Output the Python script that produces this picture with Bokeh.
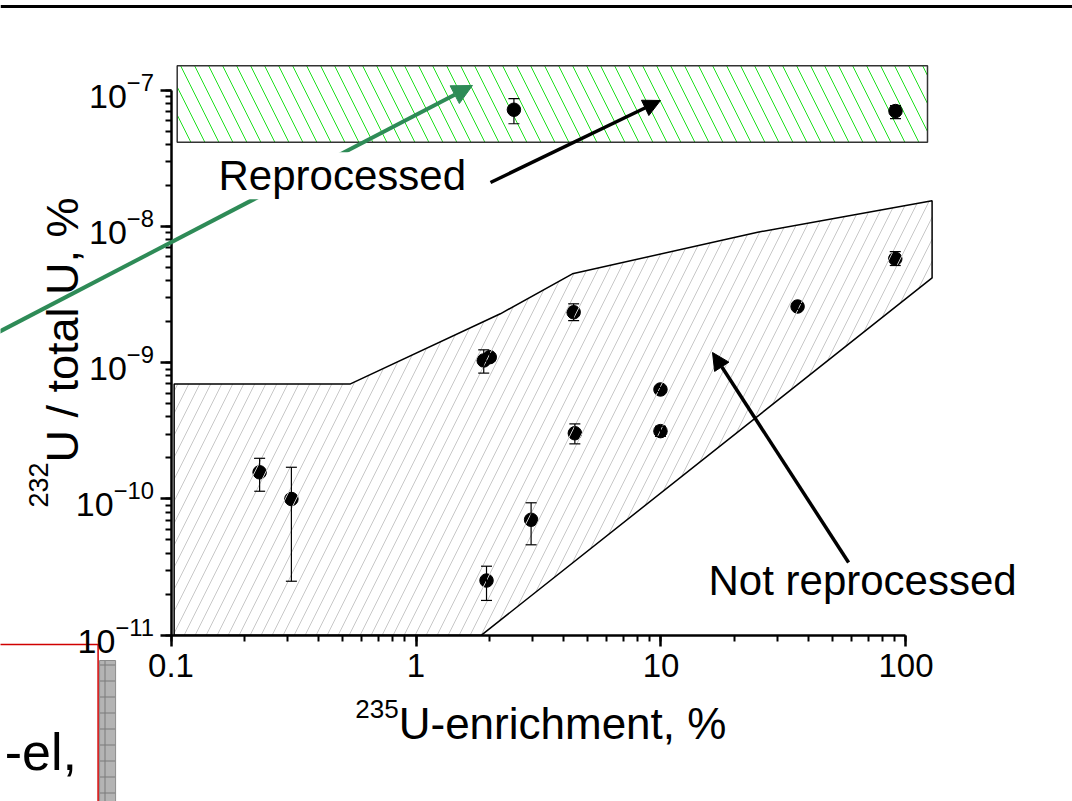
import numpy as np
from bokeh.plotting import figure
from bokeh.models import (Range1d, Whisker, TeeHead, NormalHead, Arrow, Label, Span,
                          ColumnDataSource, LogTickFormatter)
from bokeh.embed import file_html
from bokeh.resources import INLINE

# ---------------- data ----------------
enrichment = [0.23, 0.31, 4.4, 1.89, 2.0, 9.95, 4.45, 9.95, 2.95, 1.94, 90.4, 36.1, 2.51, 90.6]
u232_ratio = [1.57e-10, 1.0e-10, 2.35e-9, 1.04e-9, 1.10e-9, 6.37e-10, 3.04e-10, 3.15e-10,
              7.04e-11, 2.52e-11, 5.8e-9, 2.59e-9, 7.21e-8, 7.05e-8]
u232_upper = [1.99e-10, 1.71e-10, 2.71e-9, 1.245e-9, 1.17e-9, 6.6e-10, 3.56e-10, 3.42e-10,
              9.38e-11, 3.21e-11, 6.56e-9, 2.72e-9, 8.7e-8, 7.72e-8]
u232_lower = [1.14e-10, 2.49e-11, 2.04e-9, 8.4e-10, 1.03e-9, 6.15e-10, 2.54e-10, 2.88e-10,
              4.61e-11, 1.80e-11, 5.18e-9, 2.47e-9, 5.69e-8, 6.2e-8]

# "Not reprocessed" region outline
not_repro_x = [0.103, 0.54, 2.21, 4.35, 24.8, 127.8, 127.8, 1.85, 0.103]
not_repro_y = [7e-10, 7e-10, 2.29e-9, 4.5e-9, 9.1e-9, 1.55e-8, 4.2e-9, 1e-11, 1e-11]

# "Reprocessed" band
repro_left, repro_right = 0.106, 122.4
repro_bottom, repro_top = 4.17e-8, 1.52e-7

# axis extents
x_axis_bounds = (0.1, 100)
y_axis_bounds = (1e-11, 1e-7)

FONT = "Liberation Sans"

p = figure(width=1072, height=801, x_axis_type="log", y_axis_type="log",
           x_range=Range1d(0.02014, 478.2), y_range=Range1d(6.012e-13, 4.571e-7),
           min_border=0, min_border_left=0, min_border_right=0, min_border_top=0,
           min_border_bottom=0, toolbar_location=None, output_backend="svg")
p.xgrid.visible = False
p.ygrid.visible = False
p.outline_line_color = None
p.background_fill_color = "white"
p.border_fill_color = "white"

# axes drawn inside the frame at the data origin
for ax, loc, bnds, fs, so in ((p.xaxis[0], 1e-11, x_axis_bounds, "33px", 8),
                              (p.yaxis[0], 0.1, y_axis_bounds, "34px", 6)):
    ax.fixed_location = loc
    ax.bounds = bnds
    ax.axis_line_width = 2.5
    ax.major_tick_line_width = 2.5
    ax.minor_tick_line_width = 2
    ax.major_tick_out = 11
    ax.major_tick_in = 0
    ax.minor_tick_out = 6
    ax.minor_tick_in = 0
    ax.major_label_text_font = FONT
    ax.major_label_text_font_size = fs
    ax.major_label_text_color = "black"
    ax.major_label_standoff = so
p.xaxis[0].formatter = LogTickFormatter(min_exponent=3)

# top border line of the page
p.add_layout(Span(location=4.13e-7, dimension="width", line_color="black", line_width=3))

# fragment of the neighbouring panel (bottom-left)
p.line(x=[0.01, 0.0504, 0.0504], y=[8.55e-12, 8.55e-12, 1e-13], line_color="#d00000", line_width=1.5)
p.quad(left=[0.0511], right=[0.0594], bottom=[1e-13], top=[6.52e-12],
       fill_color="#b4b4b4", line_color="#8c8c8c", line_width=1,
       hatch_pattern="+", hatch_color="#7a7a7a", hatch_scale=16, hatch_weight=1)
p.add_layout(Label(x=0.0413, y=1.399e-12, text="-el,", text_font=FONT, text_font_size="52px",
                   text_align="right", text_baseline="middle", text_color="black"))

# reprocessed band
p.quad(left=[repro_left], right=[repro_right], bottom=[repro_bottom], top=[repro_top],
       fill_color="white", line_color="#333333", line_width=1.5,
       hatch_pattern="\\", hatch_color="#1ee01e", hatch_scale=28, hatch_weight=1)

# error bars + points
src = ColumnDataSource(dict(x=enrichment, y=u232_ratio, upper=u232_upper, lower=u232_lower))
w = Whisker(source=src, base="x", upper="upper", lower="lower", dimension="height",
            line_color="black", line_width=1.2, level="glyph",
            upper_head=TeeHead(size=11, line_color="black", line_width=1.2),
            lower_head=TeeHead(size=11, line_color="black", line_width=1.2))
p.add_layout(w)
p.scatter(x="x", y="y", source=src, size=13.5, fill_color="black", line_color="black")

# not reprocessed region (hatch drawn over the points as in the original)
p.patch(x=not_repro_x, y=not_repro_y, fill_alpha=0, line_color="black", line_width=1.5,
        hatch_pattern="/", hatch_color="#c8c8c8", hatch_scale=22, hatch_weight=1)

# annotations
p.add_layout(Arrow(x_start=0.01669, y_start=1.433e-9, x_end=1.70, y_end=1.087e-7,
                   line_color="#2e8b57", line_width=4,
                   end=NormalHead(size=20, fill_color="#2e8b57", line_color="#2e8b57", line_width=1)))
p.add_layout(Arrow(x_start=2.014, y_start=2.108e-8, x_end=9.95, y_end=8.43e-8,
                   line_color="black", line_width=3.5,
                   end=NormalHead(size=17, fill_color="black", line_color="black", line_width=1)))
p.add_layout(Arrow(x_start=58.3, y_start=3.42e-11, x_end=16.23, y_end=1.19e-9,
                   line_color="black", line_width=3.5,
                   end=NormalHead(size=17, fill_color="black", line_color="black", line_width=1)))

p.add_layout(Label(x=0.1563, y=2.36e-8, text="Reprocessed", text_font=FONT, text_font_size="42px",
                   text_align="left", text_baseline="middle", text_color="black",
                   background_fill_color="white"))
p.add_layout(Label(x=15.63, y=2.52e-11, text="Not reprocessed", text_font=FONT, text_font_size="42px",
                   text_align="left", text_baseline="middle", text_color="black"))

# axis titles with superscripts
p.add_layout(Label(x=0.85, y=2.895e-12, text="235", text_font=FONT, text_font_size="26px",
                   text_align="right", text_baseline="middle", text_color="black"))
p.add_layout(Label(x=0.85, y=2.247e-12, text="U-enrichment, %", text_font=FONT, text_font_size="44px",
                   text_align="left", text_baseline="middle", text_color="black"))
p.add_layout(Label(x=0.02878, y=1.853e-10, text="232", text_font=FONT, text_font_size="27px",
                   text_align="right", text_baseline="middle", angle=np.pi / 2, text_color="black"))
p.add_layout(Label(x=0.03606, y=1.853e-10, text="U / total U, %", text_font=FONT, text_font_size="45px",
                   text_align="left", text_baseline="middle", angle=np.pi / 2, text_color="black"))

open("out.html", "w").write(file_html(p, INLINE))
